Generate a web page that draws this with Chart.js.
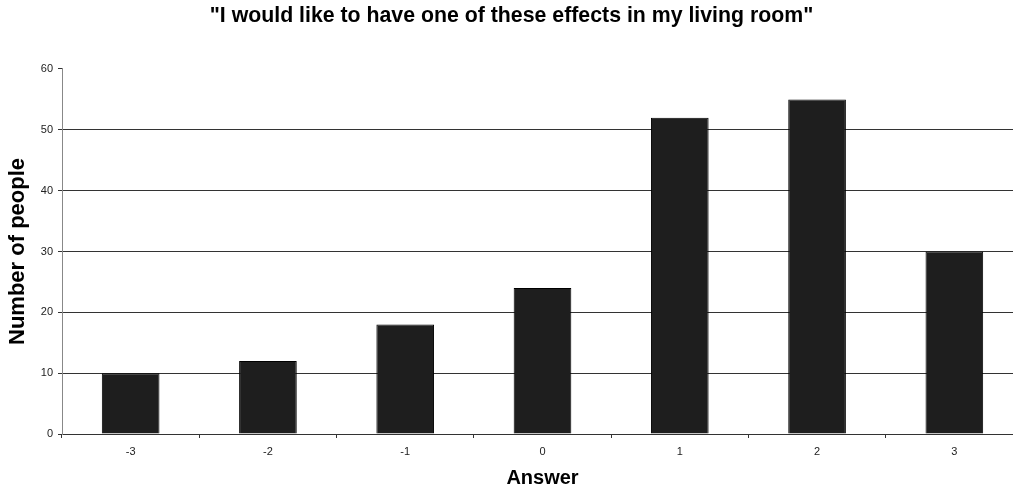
<!DOCTYPE html>
<html>
<head>
<meta charset="utf-8">
<script src="https://cdn.jsdelivr.net/npm/chart.js@4/dist/chart.umd.min.js"></script>
<style>
  html, body { margin: 0; padding: 0; background: #fff; overflow: hidden; }
  /* the plot runs a little past the right edge of the visible frame */
  #wrap { width: 1013px; height: 490px; overflow: hidden; }
</style>
</head>
<body>
<div id="wrap"><canvas id="c" width="1023" height="490"></canvas></div>
<script>
// Survey answers on a -3..3 scale and how many people picked each
const answers = ['-3', '-2', '-1', '0', '1', '2', '3'];
const peopleCounts = [10, 12, 18, 24, 52, 55, 30];
const yTicks = [0, 10, 20, 30, 40, 50, 60];

const titleText = '"I would like to have one of these effects in my living room"';
const xTitle = 'Answer';
const yTitle = 'Number of people';

const FONT = '"Liberation Sans", Arial, sans-serif';

new Chart(document.getElementById('c'), {
  type: 'bar',
  data: {
    labels: answers,
    datasets: [{
      data: peopleCounts,
      backgroundColor: '#1e1e1e',
      borderColor: '#000',
      borderWidth: 1,
      categoryPercentage: 1,
      barPercentage: 0.42
    }]
  },
  options: {
    responsive: false,
    animation: false,
    layout: { padding: { left: 0, right: 0, top: 0, bottom: 0 } },
    plugins: {
      legend: { display: false },
      tooltip: { enabled: false },
      title: {
        display: true,
        text: titleText,
        color: '#000',
        font: { family: FONT, size: 21.3, weight: 'bold' },
        padding: { top: 3.4, bottom: 40 }
      }
    },
    scales: {
      x: {
        type: 'category',
        offset: true,
        grid: {
          offset: true,
          drawOnChartArea: false,
          tickLength: 4,
          tickColor: '#333'
        },
        border: { color: '#333', width: 1 },
        ticks: {
          color: '#222',
          font: { family: FONT, size: 11 },
          padding: 7,
          maxRotation: 0
        },
        title: {
          display: true,
          text: xTitle,
          color: '#000',
          font: { family: FONT, size: 20, weight: 'bold' },
          padding: { top: 0, bottom: 0 }
        },
        afterFit: (s) => { s.height = 56; }
      },
      y: {
        min: 0,
        max: 60,
        afterBuildTicks: (s) => { s.ticks = yTicks.map(v => ({ value: v })); },
        grid: {
          color: (ctx) => (ctx.tick && ctx.tick.value === 60) ? 'rgba(0,0,0,0)' : '#333',
          tickColor: '#333',
          tickLength: 4,
          lineWidth: 1
        },
        border: { color: '#888', width: 1 },
        ticks: {
          color: '#222',
          font: { family: FONT, size: 11 },
          padding: 5
        },
        title: {
          display: true,
          text: yTitle,
          color: '#000',
          font: { family: FONT, size: 22, weight: 'bold' },
          padding: { top: 5, bottom: 0 }
        },
        afterFit: (s) => { s.width = 62; }
      }
    }
  }
});
</script>
</body>
</html>
